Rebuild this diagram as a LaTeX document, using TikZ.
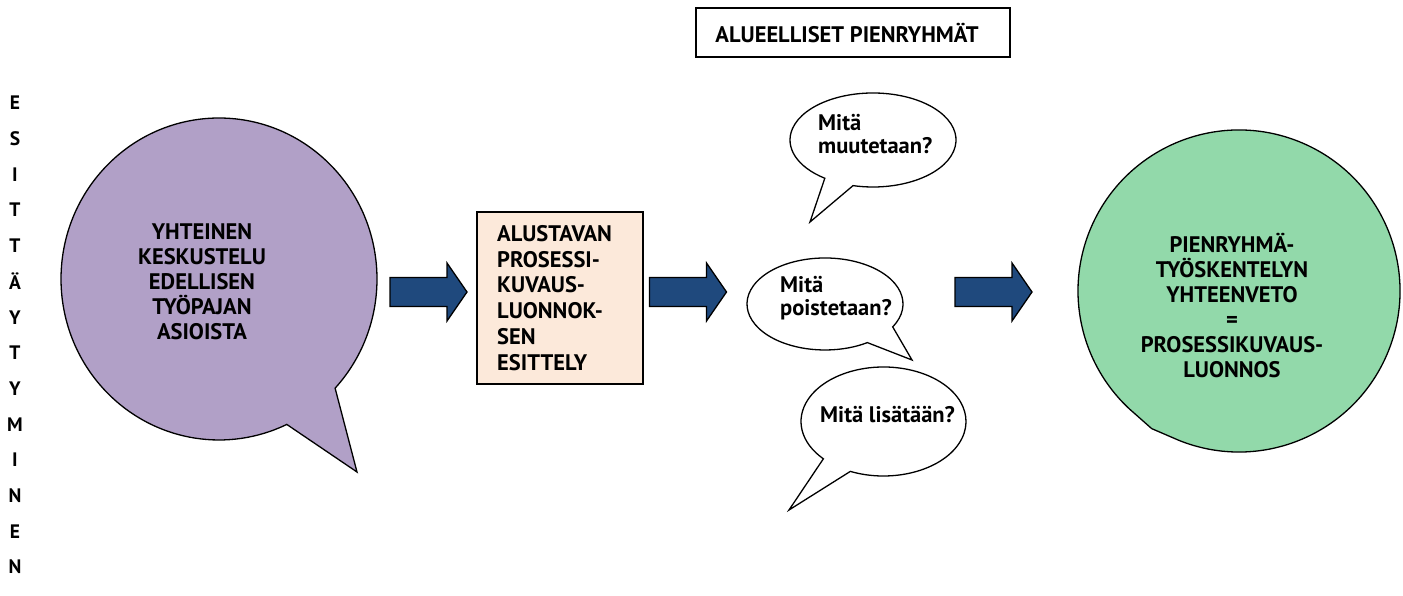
\documentclass[tikz,border=0pt]{standalone}
\usepackage{fontspec}
\setmainfont{PT Sans}
\usetikzlibrary{calc}
\definecolor{lilac}{HTML}{B1A0C7}
\definecolor{peach}{HTML}{FCE9DA}
\definecolor{mint}{HTML}{92D9AA}
\definecolor{arrowblue}{HTML}{1F497D}
\tikzset{
  outline/.style={draw=black, line width=1.3pt},
  txt/.style={font=\fontsize{22.5}{25}\selectfont\bfseries, inner sep=0pt},
  bubbletxt/.style={font=\fontsize{22.5}{23}\selectfont\bfseries, inner sep=0pt, align=left},
  vletter/.style={font=\fontsize{19.5}{19.5}\selectfont\bfseries, inner sep=0pt},
  arrowbody/.style={fill=arrowblue, draw=black, line width=1.3pt},
  pics/blockarrow/.style={code={
    \path[arrowbody] (-38.5,-14.5) -- (18.5,-14.5) -- (18.5,-29) -- (38.5,0)
      -- (18.5,29) -- (18.5,14.5) -- (-38.5,14.5) -- cycle;
    \coordinate (-tip) at (38.5,0);
    \coordinate (-tail) at (-38.5,0);}}
}
\begin{document}
\begin{tikzpicture}[x=1pt,y=1pt]
\useasboundingbox (0,0) rectangle (1403,596);

% vertical word at the left edge
\foreach \ch [count=\i from 0] in {E,S,I,T,T,Ä,Y,T,Y,M,I,N,E,N}
  \node[vletter] (v\i) at (15,{493-35.7*\i}) {\ch};

% joint discussion: lilac speech balloon
\coordinate (pc) at (219,317);
\draw[outline, fill=lilac]
  ($(pc)+(-42.7:158 and 161)$)
  arc[start angle=-42.7, end angle=295.4, x radius=158, y radius=161]
  -- (357,124) -- cycle;
\node[txt, align=center] (joint) at (202,314)
  {YHTEINEN\\KESKUSTELU\\EDELLISEN\\TYÖPAJAN\\ASIOISTA};

% first block arrow
\pic (a1) at (428.5,304) {blockarrow};

% draft presentation box
\node[outline, fill=peach, minimum width=166, minimum height=172, inner sep=0pt]
  (draft) at (560,298) {};
\node[txt, align=left, anchor=west, font=\fontsize{22.5}{25.8}\selectfont\bfseries]
  (drafttext) at (497,298)
  {ALUSTAVAN\\PROSESSI-\\KUVAUS-\\LUONNOK-\\SEN\\ESITTELY};

% second block arrow
\pic (a2) at (688,304) {blockarrow};

% heading of the group work
\node[outline, minimum width=314, minimum height=49, inner sep=0pt]
  (groups) at (853,563.5) {};
\node[txt] (groupstext) at (847,563) {ALUEELLISET PIENRYHMÄT};

% question balloons
\coordinate (b1) at (873,456);
\draw[outline, fill=white]
  ($(b1)+(-103.9:83 and 47)$)
  arc[start angle=-103.9, end angle=234.5, x radius=83, y radius=47]
  -- (810,374) -- cycle;
\node[bubbletxt, anchor=west] (q1) at (818,462) {Mitä\\muutetaan?};

\coordinate (b2) at (825,292);
\draw[outline, fill=white]
  ($(b2)+(-29.8:78 and 46)$)
  arc[start angle=-29.8, end angle=302.9, x radius=78, y radius=46]
  -- (912,236) -- cycle;
\node[bubbletxt, anchor=west] (q2) at (780,298) {Mitä\\poistetaan?};

\coordinate (b3) at (883.5,174.5);
\draw[outline, fill=white]
  ($(b3)+(-113.7:82.5 and 54.5)$)
  arc[start angle=-113.7, end angle=223.2, x radius=82.5, y radius=54.5]
  -- (789,86) -- cycle;
\node[bubbletxt, anchor=west] (q3) at (820,181) {Mitä lisätään?};

% third block arrow
\pic (a3) at (993.5,304) {blockarrow};

% summary: mint balloon
\coordinate (gc) at (1239,305);
\draw[outline, fill=mint]
  ($(gc)+(248:161)$)
  arc[start angle=248, end angle=587, radius=161]
  -- ($(gc)+(237.6:163)$) -- cycle;
\node[txt, align=center] (summary) at (1232,290)
  {PIENRYHMÄ-\\TYÖSKENTELYN\\YHTEENVETO\\=\\PROSESSIKUVAUS-\\LUONNOS};
\end{tikzpicture}
\end{document}
